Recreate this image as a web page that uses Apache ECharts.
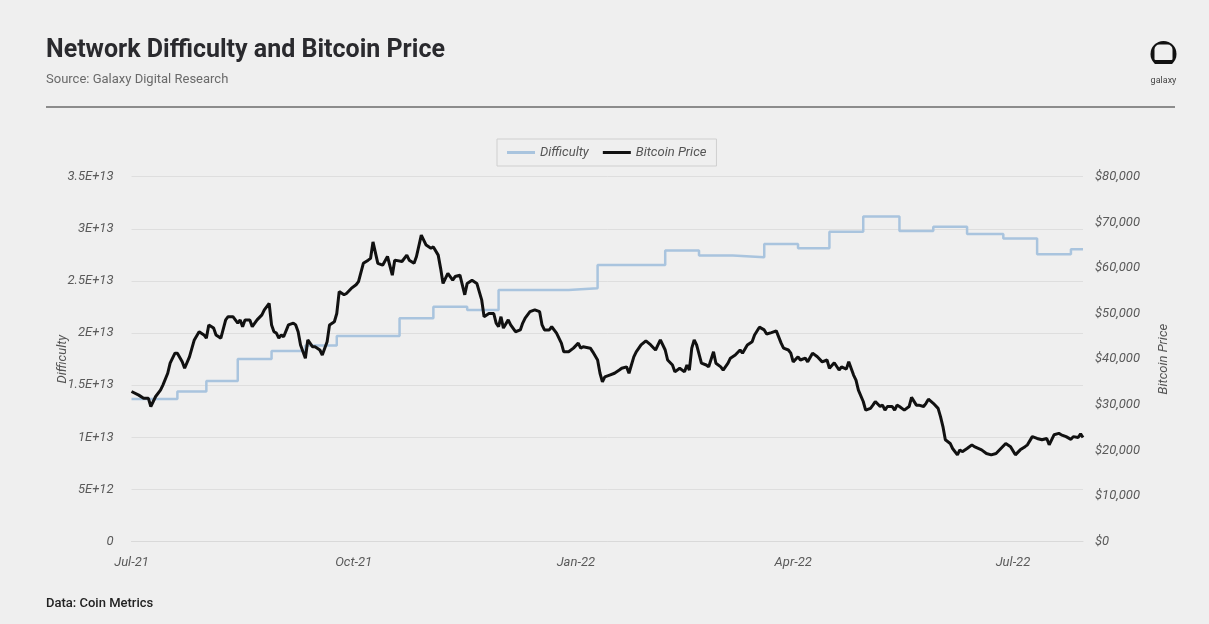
<!DOCTYPE html>
<html>
<head>
<meta charset="utf-8">
<title>Network Difficulty and Bitcoin Price</title>
<script src="https://cdn.jsdelivr.net/npm/echarts@6/dist/echarts.min.js"></script>
<style>
  html, body { margin: 0; padding: 0; background: #efefef; }
  #chart { width: 1209px; height: 624px; }
</style>
</head>
<body>
<div id="chart"></div>
<script>
// Bitcoin price, USD (daily close, sampled)
const priceDates = [
  '2021-07-12','2021-07-15','2021-07-17','2021-07-19','2021-07-20','2021-07-22','2021-07-24','2021-07-25','2021-07-27','2021-07-28',
  '2021-07-30','2021-07-31','2021-08-02','2021-08-03','2021-08-05','2021-08-07','2021-08-09','2021-08-11','2021-08-12','2021-08-13',
  '2021-08-15','2021-08-16','2021-08-18','2021-08-20','2021-08-21','2021-08-23','2021-08-25','2021-08-26','2021-08-27','2021-08-28',
  '2021-08-30','2021-08-31','2021-09-02','2021-09-04','2021-09-05','2021-09-07','2021-09-08','2021-09-09','2021-09-10','2021-09-11',
  '2021-09-12','2021-09-13','2021-09-15','2021-09-17','2021-09-18','2021-09-19','2021-09-20','2021-09-22','2021-09-23','2021-09-25',
  '2021-09-26','2021-09-28','2021-09-29','2021-10-01','2021-10-02','2021-10-04','2021-10-05','2021-10-06','2021-10-08','2021-10-09',
  '2021-10-11','2021-10-13','2021-10-14','2021-10-16','2021-10-18','2021-10-19','2021-10-20','2021-10-22','2021-10-24','2021-10-26',
  '2021-10-28','2021-10-29','2021-11-01','2021-11-03','2021-11-04','2021-11-06','2021-11-07','2021-11-09','2021-11-11','2021-11-13',
  '2021-11-14','2021-11-16','2021-11-17','2021-11-18','2021-11-20','2021-11-22','2021-11-23','2021-11-25','2021-11-27','2021-11-28',
  '2021-11-30','2021-12-02','2021-12-04','2021-12-05','2021-12-07','2021-12-09','2021-12-10','2021-12-11','2021-12-12','2021-12-13',
  '2021-12-15','2021-12-16','2021-12-18','2021-12-20','2021-12-21','2021-12-22','2021-12-24','2021-12-26','2021-12-28','2021-12-29',
  '2021-12-30','2022-01-01','2022-01-02','2022-01-04','2022-01-06','2022-01-07','2022-01-09','2022-01-11','2022-01-13','2022-01-14',
  '2022-01-15','2022-01-18','2022-01-19','2022-01-21','2022-01-22','2022-01-23','2022-01-24','2022-01-26','2022-01-28','2022-01-30',
  '2022-01-31','2022-02-02','2022-02-03','2022-02-05','2022-02-06','2022-02-08','2022-02-10','2022-02-12','2022-02-14','2022-02-16',
  '2022-02-18','2022-02-19','2022-02-21','2022-02-22','2022-02-24','2022-02-26','2022-02-27','2022-02-28','2022-03-01','2022-03-02',
  '2022-03-03','2022-03-05','2022-03-07','2022-03-08','2022-03-10','2022-03-11','2022-03-13','2022-03-14','2022-03-16','2022-03-17',
  '2022-03-19','2022-03-21','2022-03-22','2022-03-24','2022-03-26','2022-03-27','2022-03-29','2022-03-31','2022-04-01','2022-04-03',
  '2022-04-05','2022-04-07','2022-04-08','2022-04-10','2022-04-11','2022-04-12','2022-04-14','2022-04-15','2022-04-17','2022-04-18',
  '2022-04-20','2022-04-22','2022-04-24','2022-04-26','2022-04-27','2022-04-29','2022-05-01','2022-05-02','2022-05-04','2022-05-05',
  '2022-05-07','2022-05-08','2022-05-09','2022-05-11','2022-05-12','2022-05-14','2022-05-15','2022-05-16','2022-05-18','2022-05-19',
  '2022-05-20','2022-05-21','2022-05-23','2022-05-24','2022-05-25','2022-05-26','2022-05-28','2022-05-30','2022-05-31','2022-06-02',
  '2022-06-03','2022-06-05','2022-06-06','2022-06-07','2022-06-09','2022-06-11','2022-06-12','2022-06-13','2022-06-14','2022-06-16',
  '2022-06-17','2022-06-19','2022-06-20','2022-06-21','2022-06-23','2022-06-25','2022-06-26','2022-06-29','2022-07-01','2022-07-03',
  '2022-07-05','2022-07-07','2022-07-09','2022-07-11','2022-07-13','2022-07-15','2022-07-17','2022-07-18','2022-07-20','2022-07-22',
  '2022-07-24','2022-07-26','2022-07-27','2022-07-29','2022-07-31','2022-08-01','2022-08-03','2022-08-05','2022-08-06','2022-08-08',
  '2022-08-09','2022-08-10'
];
const priceValues = [
  32900,32100,31400,31400,29600,31800,33200,34300,36900,39100,
  41300,41300,39400,38000,40500,44200,46000,45300,44600,47500,
  46800,45300,44600,48600,49300,49300,47900,48600,47100,48600,
  48600,47100,48600,49700,50800,52200,47500,46000,45700,44600,
  45300,44900,47500,47900,47500,46000,43100,40200,44200,42700,
  42700,42000,40900,43800,47500,48200,50000,54800,54100,54400,
  55500,56300,57000,61000,61700,62100,65700,61000,60600,62500,
  58400,61700,61400,62800,61700,61000,62500,67200,65000,64300,
  64600,62800,59900,56600,58800,57300,58100,58400,54100,56600,
  57300,56600,53000,49300,50000,50000,47900,47100,49300,46800,
  48600,47500,46000,46400,47900,49000,50400,50800,50400,47500,
  46400,46400,47100,45700,43500,41600,41600,42400,43500,42400,
  42700,42400,41600,39800,36900,35000,36100,36500,36900,37600,
  38000,38300,36900,40500,41600,43100,44000,43100,42000,44200,
  42000,39800,38700,37200,38000,37200,38700,37600,42400,44200,
  43100,39100,38700,38300,41600,39100,38300,37600,39100,40200,
  40900,42000,41300,43100,43800,45300,47000,46400,45500,45800,
  46200,43500,42400,42000,41300,39400,40500,39800,40200,39400,
  41300,40500,39400,39800,38000,39200,37600,38300,37800,39400,
  36500,35400,33200,30700,28800,29200,29900,30700,29600,29900,
  28800,29600,29600,28800,29900,29600,28800,29600,31600,29900,
  29900,29600,30300,31200,30300,29200,27400,25200,22300,21500,
  20400,19000,20100,19700,20400,21200,20800,20100,19300,19000,
  19300,20400,21500,20800,19000,20100,20800,21200,23000,22600,
  22300,22600,21200,23400,23700,23400,23000,22400,23000,22800,
  23600,22800
];

// Network difficulty: value in effect from each adjustment date
const difficultyDates = [
  '2021-07-12','2021-07-31','2021-08-12','2021-08-25','2021-09-08','2021-09-22','2021-10-05','2021-10-31',
  '2021-11-14','2021-11-28','2021-12-11','2022-01-09','2022-01-21','2022-02-18','2022-03-04','2022-03-18',
  '2022-03-31','2022-04-14','2022-04-27','2022-05-11','2022-05-26','2022-06-09','2022-06-23','2022-07-08',
  '2022-07-22','2022-08-05','2022-08-10'
];
const difficultyValues = [
  13.68e12,14.38e12,15.40e12,17.51e12,18.28e12,18.80e12,19.72e12,21.42e12,
  22.53e12,22.22e12,24.14e12,24.30e12,26.54e12,27.91e12,27.43e12,27.27e12,
  28.55e12,28.14e12,29.73e12,31.17e12,29.80e12,30.21e12,29.51e12,29.06e12,
  27.56e12,28.04e12,28.04e12
];

// Quarterly x-axis labels
const xTickDates = ['2021-07-12','2021-10-12','2022-01-12','2022-04-12','2022-07-12'];
const xTickLabels = ['Jul-21','Oct-21','Jan-22','Apr-22','Jul-22'];
const xRange = ['2021-07-12','2022-08-10'];

function toTime(s) {
  const p = s.split('-').map(Number);
  return Date.UTC(p[0], p[1] - 1, p[2]);
}

const priceData = priceDates.map((d, i) => [toTime(d), priceValues[i]]);
const difficultyData = difficultyDates.map((d, i) => [toTime(d), difficultyValues[i]]);
const tickTimes = xTickDates.map(toTime);

const FONT = 'Roboto, "Noto Sans", sans-serif';
const axisLabelStyle = { color: '#5a5a5a', fontSize: 13, fontStyle: 'italic', fontFamily: FONT };

const chart = echarts.init(document.getElementById('chart'), null, { renderer: 'canvas' });

chart.setOption({
  backgroundColor: '#efefef',
  animation: false,
  grid: { left: 131.5, right: 126, top: 176.7, bottom: 82.5, containLabel: false },
  legend: {
    left: 497, top: 139,
    padding: [7, 10, 7, 10],
    borderColor: '#cfcfcf', borderWidth: 1,
    itemWidth: 28, itemHeight: 3, itemGap: 14,
    textStyle: { color: '#555', fontSize: 13, fontStyle: 'italic', fontFamily: FONT },
    data: [
      { name: 'Difficulty', icon: 'rect' },
      { name: 'Bitcoin Price', icon: 'rect' }
    ]
  },
  xAxis: {
    type: 'value',
    min: toTime(xRange[0]),
    max: toTime(xRange[1]),
    axisLine: { show: true, lineStyle: { color: '#d9d9d9', width: 1 } },
    axisTick: { show: false },
    splitLine: { show: false },
    axisLabel: Object.assign({}, axisLabelStyle, {
      margin: 15,
      customValues: tickTimes,
      formatter: function (v) {
        const i = tickTimes.indexOf(v);
        return i >= 0 ? xTickLabels[i] : '';
      }
    })
  },
  yAxis: [
    {
      type: 'value',
      min: 0, max: 3.5e13, interval: 5e12,
      name: 'Difficulty',
      nameLocation: 'middle',
      nameGap: 62,
      nameRotate: 90,
      nameMoveOverlap: false,
      nameTextStyle: { color: '#555', fontSize: 13, fontStyle: 'italic', fontFamily: FONT },
      axisLine: { show: false },
      axisTick: { show: false },
      splitLine: { show: true, lineStyle: { color: '#dedede', width: 1 } },
      axisLabel: Object.assign({}, axisLabelStyle, {
        margin: 18,
        formatter: function (v) {
          if (v === 0) return '0';
          return Number(v.toPrecision(3)).toExponential().replace('e+', 'E+');
        }
      })
    },
    {
      type: 'value',
      min: 0, max: 80000, interval: 10000,
      name: 'Bitcoin Price',
      nameLocation: 'middle',
      nameGap: 74,
      nameRotate: 90,
      nameMoveOverlap: false,
      nameTextStyle: { color: '#555', fontSize: 13, fontStyle: 'italic', fontFamily: FONT },
      axisLine: { show: false },
      axisTick: { show: false },
      splitLine: { show: false },
      axisLabel: Object.assign({}, axisLabelStyle, {
        margin: 12,
        formatter: function (v) { return '$' + v.toLocaleString('en-US'); }
      })
    }
  ],
  series: [
    {
      name: 'Difficulty',
      type: 'line',
      yAxisIndex: 0,
      step: 'end',
      showSymbol: false,
      data: difficultyData,
      itemStyle: { color: '#a9c4de' },
      lineStyle: { color: '#a9c4de', width: 2.5 },
      z: 2
    },
    {
      name: 'Bitcoin Price',
      type: 'line',
      yAxisIndex: 1,
      showSymbol: false,
      data: priceData,
      itemStyle: { color: '#111111' },
      lineStyle: { color: '#111111', width: 3 },
      z: 3
    }
  ],
  graphic: [
    { type: 'text', style: { x: 46, y: 50.5, text: 'Network Difficulty and Bitcoin Price', font: '700 25px ' + FONT, fill: '#2a2a2e', verticalAlign: 'middle' } },
    { type: 'text', style: { x: 46, y: 80, text: 'Source: Galaxy Digital Research', font: '13px ' + FONT, fill: '#6a6a6a', verticalAlign: 'middle' } },
    { type: 'line', shape: { x1: 46, y1: 107, x2: 1175, y2: 107 }, style: { stroke: '#8c8c8c', lineWidth: 2 } },
    { type: 'text', style: { x: 46, y: 603.5, text: 'Data: Coin Metrics', font: '500 13px ' + FONT, fill: '#222', verticalAlign: 'middle' } },
    // galaxy mark
    { type: 'circle', shape: { cx: 1163.5, cy: 54, r: 13 }, style: { fill: '#111' } },
    { type: 'rect', shape: { x: 1154.5, y: 44.5, width: 18, height: 15.5, r: [5, 5, 1, 1] }, style: { fill: '#efefef' } },
    { type: 'rect', shape: { x: 1149, y: 64, width: 29, height: 5 }, style: { fill: '#efefef' } },
    { type: 'text', style: { x: 1163.5, y: 81, text: 'galaxy', font: '9px ' + FONT, fill: '#444', align: 'center', verticalAlign: 'middle' } }
  ]
});
</script>
</body>
</html>
